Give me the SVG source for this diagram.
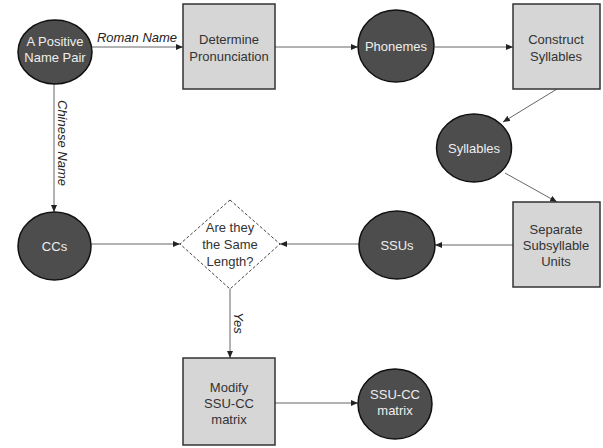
<svg xmlns="http://www.w3.org/2000/svg" width="603" height="448" viewBox="0 0 603 448">
<defs>
<marker id="arr" markerWidth="8" markerHeight="6" refX="7" refY="3" orient="auto" markerUnits="userSpaceOnUse">
<path d="M0,0 L7,3 L0,6 Z" fill="#222"/>
</marker>
</defs>
<style>
.circ{fill:#4d4d4d;stroke:#111;stroke-width:1.5}
.box{fill:#d6d6d6;stroke:#333;stroke-width:1.5}
.dia{fill:#fff;stroke:#444;stroke-width:1;stroke-dasharray:3,2}
.edge{stroke:#666;stroke-width:1;fill:none;marker-end:url(#arr)}
text{font-family:"Liberation Sans",Arial,sans-serif;font-size:13px;text-anchor:middle}
.w{fill:#eee}
.d{fill:#333}
.lbl{fill:#222;font-style:italic}
</style>
<rect width="603" height="448" fill="#fff"/>
<g id="connectors">
<line class="edge" x1="92" y1="47" x2="183" y2="47"/>
<line class="edge" x1="275" y1="47" x2="358" y2="47"/>
<line class="edge" x1="435" y1="47" x2="513" y2="47"/>
<line class="edge" x1="557" y1="89" x2="503" y2="122"/>
<line class="edge" x1="505" y1="173" x2="557" y2="202"/>
<line class="edge" x1="513" y1="245" x2="435" y2="245"/>
<line class="edge" x1="359" y1="244" x2="280" y2="244"/>
<line class="edge" x1="91" y1="244" x2="180" y2="244"/>
<line class="edge" x1="54" y1="82" x2="54" y2="212"/>
<line class="edge" x1="230" y1="289" x2="230" y2="358"/>
<line class="edge" x1="275" y1="403" x2="358" y2="403"/>
<text class="lbl" x="137" y="42">Roman Name</text>
<text class="lbl" transform="translate(58,143) rotate(90)">Chinese Name</text>
<text class="lbl" transform="translate(234,323) rotate(90)">Yes</text>
</g>
<g id="positive">
<ellipse class="circ" cx="55" cy="52" rx="37" ry="32"/>
<text class="w" x="55" y="46">A Positive</text>
<text class="w" x="55" y="62">Name Pair</text>
</g>
<g id="determine">
<rect class="box" x="183" y="4" width="92" height="85"/>
<text class="d" x="229" y="44">Determine</text>
<text class="d" x="229" y="61">Pronunciation</text>
</g>
<g id="phonemes">
<ellipse class="circ" cx="396" cy="46" rx="38" ry="36"/>
<text class="w" x="396" y="51">Phonemes</text>
</g>
<g id="construct">
<rect class="box" x="513" y="4" width="87" height="85"/>
<text class="d" x="556" y="44">Construct</text>
<text class="d" x="556" y="61">Syllables</text>
</g>
<g id="syllables">
<ellipse class="circ" cx="474" cy="148" rx="37.5" ry="34"/>
<text class="w" x="474" y="153">Syllables</text>
</g>
<g id="separate">
<rect class="box" x="513" y="202" width="87" height="85"/>
<text class="d" x="556" y="234">Separate</text>
<text class="d" x="556" y="250">Subsyllable</text>
<text class="d" x="556" y="266">Units</text>
</g>
<g id="ssus">
<ellipse class="circ" cx="397" cy="245" rx="38" ry="34"/>
<text class="w" x="397" y="250">SSUs</text>
</g>
<g id="ccs">
<ellipse class="circ" cx="54.5" cy="246" rx="36.5" ry="34"/>
<text class="w" x="54.5" y="251">CCs</text>
</g>
<g id="same-length">
<polygon class="dia" points="230,200 280,244 230,289 180,244"/>
<text class="d" x="230" y="232">Are they</text>
<text class="d" x="230" y="249">the Same</text>
<text class="d" x="230" y="266">Length?</text>
</g>
<g id="modify">
<rect class="box" x="183" y="358" width="92" height="87"/>
<text class="d" x="229" y="392">Modify</text>
<text class="d" x="229" y="408">SSU-CC</text>
<text class="d" x="229" y="424">matrix</text>
</g>
<g id="matrix">
<ellipse class="circ" cx="395" cy="404" rx="37" ry="35"/>
<text class="w" x="395" y="399">SSU-CC</text>
<text class="w" x="395" y="415">matrix</text>
</g>
</svg>
